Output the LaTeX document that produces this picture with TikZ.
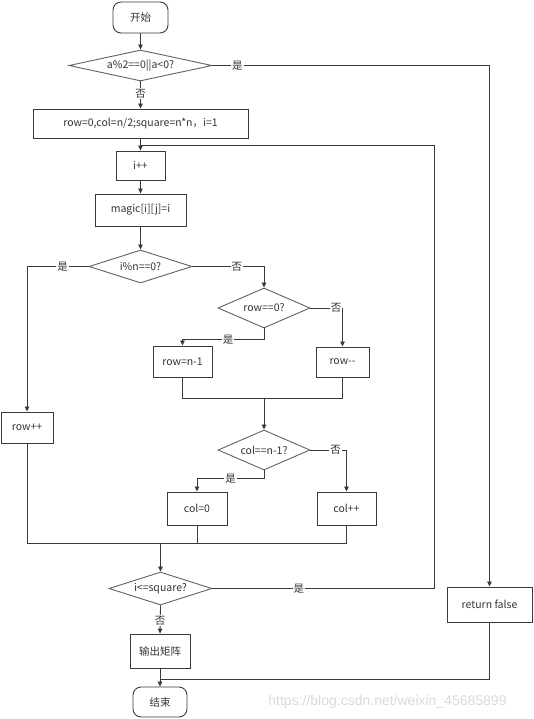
\documentclass[tikz,border=0pt]{standalone}
\usepackage{fontspec}
\setmainfont{Noto Sans CJK SC}
\newfontfamily\wmfont{Liberation Sans}
\usetikzlibrary{shapes.geometric,arrows.meta}
\definecolor{ln}{HTML}{3A3A3A}
\definecolor{tx}{HTML}{333333}
\tikzset{
  base/.style={draw=ln, line width=0.9pt, inner sep=0pt, text=tx, font=\fontsize{10.5}{12}\selectfont},
  boxnode/.style={base, rectangle},
  termnode/.style={base, rectangle, rounded corners=8pt},
  decnode/.style={base, diamond, aspect=4, draw=ln!80},
  arr/.style={draw=ln, line width=0.8pt, -{Triangle[length=5pt,width=4.5pt]}},
  ln/.style={draw=ln, line width=0.8pt},
  lbl/.style={fill=white, inner sep=1pt, text=tx, font=\fontsize{10.5}{12}\selectfont}
}
\begin{document}
\begin{tikzpicture}[x=1pt,y=-1pt]
\useasboundingbox (0,0) rectangle (533,719);
% nodes
\node[termnode, minimum width=55pt, minimum height=31pt] (start) at (140.5,17.5) {开始};
\node[decnode, minimum width=143pt, minimum height=31pt] (d1) at (140.5,65.5) {a\%2==0||a<0?};
\node[boxnode, minimum width=215pt, minimum height=29pt] (init) at (140.5,123.5) {row=0,col=n/2;square=n*n，i=1};
\node[boxnode, minimum width=49pt, minimum height=29pt] (inc) at (140.5,165.5) {i++};
\node[boxnode, minimum width=91pt, minimum height=32pt] (magic) at (140.5,210) {magic[i][j]=i};
\node[decnode, minimum width=103pt, minimum height=33pt] (d2) at (140.5,266.5) {i\%n==0?};
\node[decnode, minimum width=92pt, minimum height=40pt] (d3) at (264,308) {row==0?};
\node[boxnode, minimum width=59pt, minimum height=31pt] (rown) at (182.5,361.5) {row=n-1};
\node[boxnode, minimum width=53pt, minimum height=30pt] (rowmm) at (342.5,362) {row{-}{-}};
\node[boxnode, minimum width=52pt, minimum height=31pt] (rowpp) at (27,427.5) {row++};
\node[decnode, minimum width=92pt, minimum height=40pt] (d4) at (264,450) {col==n-1?};
\node[boxnode, minimum width=60pt, minimum height=33pt] (col0) at (197,508.5) {col=0};
\node[boxnode, minimum width=59pt, minimum height=33pt] (colpp) at (346.5,508.5) {col++};
\node[decnode, minimum width=103pt, minimum height=33pt] (d5) at (160.5,588.5) {i<=square?};
\node[boxnode, minimum width=60pt, minimum height=34pt] (out) at (160,651) {输出矩阵};
\node[boxnode, minimum width=85pt, minimum height=35pt] (rf) at (489.5,604.5) {return false};
\node[termnode, minimum width=54pt, minimum height=30pt] (end) at (160,702) {结束};
\node[text=black!15, font=\wmfont\fontsize{14}{16}\selectfont, inner sep=0pt] (wm) at (387.5,702) {https://blog.csdn.net/weixin\_45685899};
% helper coordinates
\coordinate (loopR) at (434,145);
\coordinate (loopJ) at (140.5,145);
\coordinate (m1) at (264,398);
\coordinate (m2) at (160.5,543);
\coordinate (j3) at (160,679);
% connectors
\draw[arr] (start) -- (d1);
\draw[arr] (d1.east) -- node[lbl,pos=0.09] (l1) {是} (d1.east -| rf.north) -- (rf.north);
\draw[arr] (d1.south) -- node[lbl,pos=0.45] (l2) {否} (init.north);
\draw[arr] (init.south) -- (inc.north);
\draw[ln] (d5.east) -- node[lbl,pos=0.39] (l3) {是} (d5.east -| loopR) -- (loopR) -- (loopJ);
\draw[arr] (inc.south) -- (magic.north);
\draw[arr] (magic.south) -- (d2.north);
\draw[arr] (d2.west) -- node[lbl,pos=0.42] (l4) {是} (d2.west -| rowpp.north) -- (rowpp.north);
\draw[arr] (d2.east) -- node[lbl,pos=0.62] (l5) {否} (d2.east -| d3.north) -- (d3.north);
\draw[arr] (d3.east) -- node[lbl,pos=0.8] (l6) {否} (d3.east -| rowmm.north) -- (rowmm.north);
\draw[arr] (d3.south) -- ++(0,11) coordinate (d3y) -- node[lbl,pos=0.44] (l7) {是} (d3y -| rown.north) -- (rown.north);
\draw[ln] (rown.south) -- (rown.south |- m1) -- (rowmm.south |- m1) -- (rowmm.south);
\draw[arr] (m1) -- (d4.north);
\draw[arr] (d4.east) -- node[lbl,pos=0.7] (l8) {否} (d4.east -| colpp.north) -- (colpp.north);
\draw[arr] (d4.south) -- ++(0,8) coordinate (d4y) -- node[lbl,pos=0.5] (l9) {是} (d4y -| col0.north) -- (col0.north);
\draw[ln] (rowpp.south) -- (rowpp.south |- m2) -- (colpp.south |- m2) -- (colpp.south);
\draw[ln] (col0.south) -- (col0.south |- m2);
\draw[arr] (m2) -- (d5.north);
\draw[arr] (d5.south) -- node[lbl,pos=0.55] (l10) {否} (out.north);
\draw[ln] (rf.south) -- (rf.south |- j3) -- (j3);
\draw[arr] (out.south) -- (end.north);
\end{tikzpicture}
\end{document}
